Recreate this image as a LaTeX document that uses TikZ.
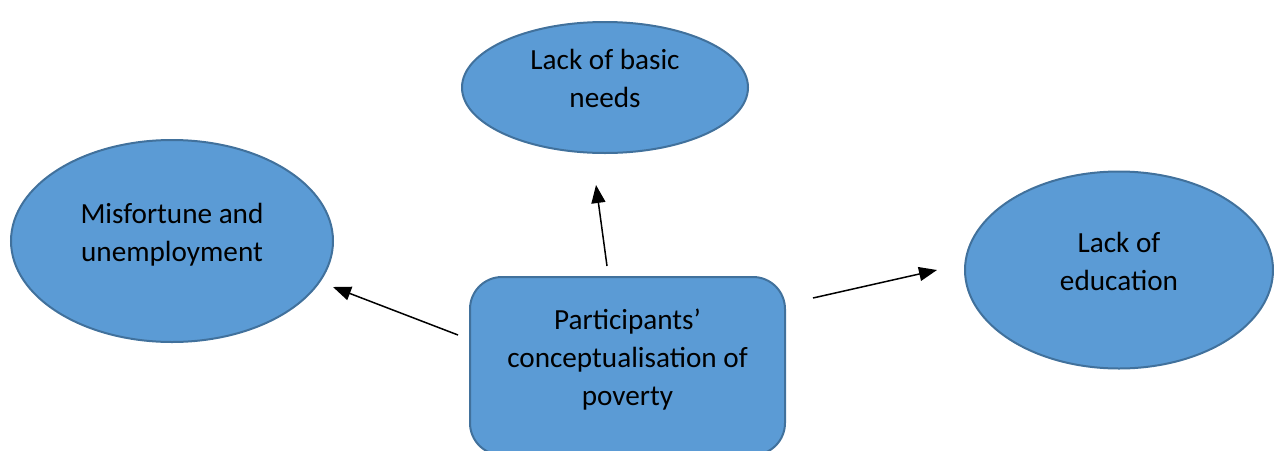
\documentclass[tikz,border=0pt]{standalone}
\usepackage{fontspec}
\setmainfont{Carlito}
\usetikzlibrary{shapes.geometric,arrows.meta}

\definecolor{bubblefill}{HTML}{5B9BD5}
\definecolor{bubbleedge}{HTML}{41719C}
% extra depth lifts the lines a little above the shape's centre
\newcommand{\bubbletext}[1]{\raisebox{0pt}[\height][\dimexpr\depth+6.5pt\relax]{\begin{tabular}{@{}c@{}}#1\end{tabular}}}

\tikzset{
  bubble/.style={draw=bubbleedge, fill=bubblefill, ellipse, line width=1pt,
    inner sep=0pt, font=\fontsize{14.6}{19}\selectfont},
  centrebox/.style={draw=bubbleedge, fill=bubblefill, rectangle, rounded corners=16pt,
    line width=1pt, inner sep=0pt, font=\fontsize{14.6}{19}\selectfont},
  pointer/.style={-{Triangle[length=9pt,width=7pt]}, line width=0.75pt}
}

\begin{document}
\begin{tikzpicture}[x=0.5pt, y=-0.5pt]
    \useasboundingbox (0,0) rectangle (1274,450);

    \node[centrebox, minimum width=157.5pt, minimum height=89pt] (poverty) at (627.5,366)
        {\bubbletext{Participants’\\conceptualisation of\\poverty}};
    \node[bubble, minimum width=143pt, minimum height=65.5pt] (needs) at (605,87.5)
        {\bubbletext{Lack of basic\\needs}};
    \node[bubble, minimum width=161pt, minimum height=101pt] (misfortune) at (172,241)
        {\bubbletext{Misfortune and\\unemployment}};
    \node[bubble, minimum width=154pt, minimum height=98.5pt] (education) at (1119,270)
        {\bubbletext{Lack of\\education}};

    % arrow ends stand free of the shapes
    \coordinate (upfrom) at (607,266);
    \coordinate (upto) at (596,185);
    \coordinate (leftfrom) at (458,335);
    \coordinate (leftto) at (333,287);
    \coordinate (rightfrom) at (813,298);
    \coordinate (rightto) at (937,270);

    \draw[pointer] (upfrom) -- (upto);
    \draw[pointer] (leftfrom) -- (leftto);
    \draw[pointer] (rightfrom) -- (rightto);
\end{tikzpicture}
\end{document}
